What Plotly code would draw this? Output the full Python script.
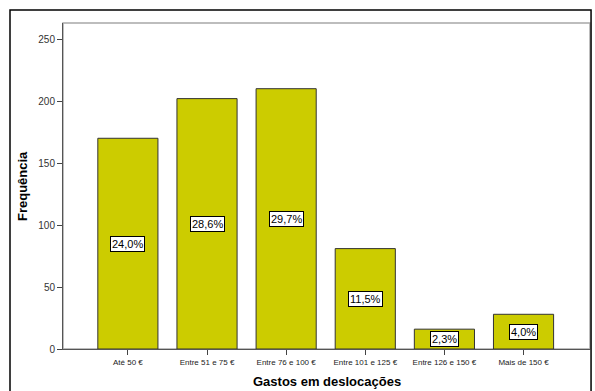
import plotly.graph_objects as go

categories = ["Até 50 €", "Entre 51 e 75 €", "Entre 76 e 100 €", "Entre 101 e 125 €", "Entre 126 e 150 €", "Mais de 150 €"]
counts = [170, 202, 210, 81, 16, 28]
percent_labels = ["24,0%", "28,6%", "29,7%", "11,5%", "2,3%", "4,0%"]
y_ticks = [0, 50, 100, 150, 200, 250]

xs = list(range(len(categories)))

fig = go.Figure()
fig.add_trace(go.Bar(
    x=xs, y=counts, width=0.76,
    marker=dict(color="#cccc00", line=dict(color="#333333", width=1)),
    hoverinfo="skip", showlegend=False,
))

for x, c, t in zip(xs, counts, percent_labels):
    fig.add_annotation(
        x=x, y=c / 2, text=t, showarrow=False,
        font=dict(family="Liberation Sans, Arial", size=11, color="black"),
        bgcolor="white", bordercolor="black", borderwidth=1, borderpad=1,
    )

L, T, R, B = 63, 23, 5, 42
W, H = 595, 391
pw = W - L - R
ph = H - T - B

fig.update_layout(
    width=W, height=H,
    margin=dict(l=L, r=R, t=T, b=B, autoexpand=False),
    paper_bgcolor="white", plot_bgcolor="white",
    font=dict(family="Liberation Sans, Arial", color="black"),
    xaxis=dict(
        range=[-0.82, 5.84], automargin=False,
        tickmode="array", tickvals=xs, ticktext=categories,
        tickfont=dict(size=8, color="#222222"),
        ticks="outside", ticklen=5, tickcolor="#444444",
        showline=True, linecolor="#555555", linewidth=1,
        showgrid=False, zeroline=False,
    ),
    yaxis=dict(
        range=[0, 263], automargin=False,
        tickmode="array", tickvals=y_ticks,
        tickfont=dict(size=10, color="#333333"),
        ticks="outside", ticklen=5, tickcolor="#444444",
        showline=True, linecolor="#555555", linewidth=1,
        showgrid=False, zeroline=False,
    ),
)

# axis titles
fig.add_annotation(xref="paper", yref="paper", x=(327 - L) / pw, y=-(381 - (H - B)) / ph,
                   text="<b>Gastos em deslocações</b>", showarrow=False,
                   font=dict(size=13, family="Liberation Sans, Arial"), xanchor="center", yanchor="middle")
fig.add_annotation(xref="paper", yref="paper", x=-(L - 22) / pw, y=0.5,
                   text="<b>Frequência</b>", showarrow=False, textangle=-90,
                   font=dict(size=13, family="Liberation Sans, Arial"), xanchor="center", yanchor="middle")

# plot-area frame (light gray)
fig.add_shape(type="rect", xref="paper", yref="paper", x0=0, y0=0, x1=1, y1=1,
              line=dict(color="#a8a8a8", width=1.5), layer="below")
# outer black frame
fig.add_shape(type="rect", xref="paper", yref="paper",
              x0=(10 - L) / pw, y0=-(B + 20) / ph, x1=(590 - L) / pw + 0.002, y1=1 + (T - 10) / ph,
              line=dict(color="black", width=1.5))

fig.write_html("out.html", config={"displayModeBar": False},
               post_script="document.body.style.margin='0';document.body.style.overflow='hidden';")
